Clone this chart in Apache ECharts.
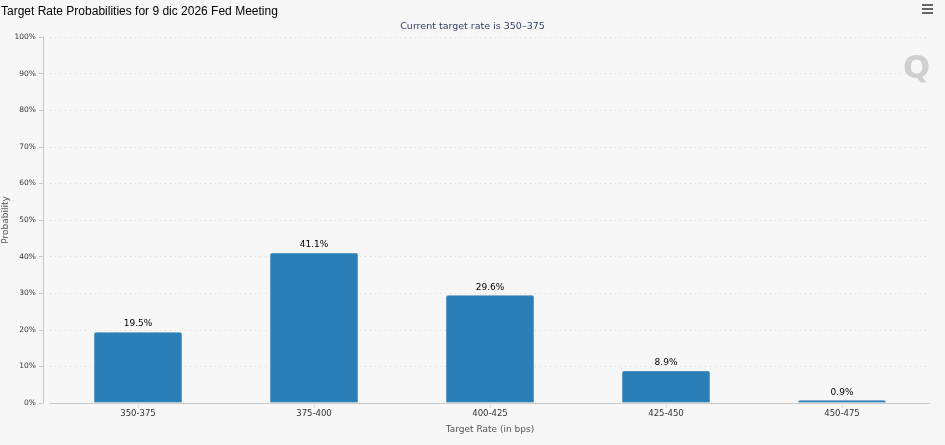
<!DOCTYPE html>
<html>
<head>
<meta charset="utf-8">
<script src="https://cdn.jsdelivr.net/npm/echarts@6/dist/echarts.min.js"></script>
<style>
  html, body { margin: 0; padding: 0; background: #f7f7f7; }
  #chart { width: 945px; height: 445px; }
</style>
</head>
<body>
<div id="chart"></div>
<script>
var categories = ["350-375", "375-400", "400-425", "425-450", "450-475"];
var probabilities = [19.5, 41.1, 29.6, 8.9, 0.9];
var yTicks = [0, 10, 20, 30, 40, 50, 60, 70, 80, 90, 100];

var dom = echarts.init(document.getElementById("chart"));
var option = {
  backgroundColor: "#f7f7f7",
  animation: false,
  title: [
    {
      text: "Target Rate Probabilities for 9 dic 2026 Fed Meeting",
      left: -4,
      top: 1,
      textStyle: {
        fontFamily: "Liberation Sans",
        fontSize: 12,
        fontWeight: "normal",
        color: "#000"
      }
    },
    {
      text: "Current target rate is 350\u2013375",
      left: "center",
      top: 17,
      textStyle: {
        fontFamily: "DejaVu Sans",
        fontSize: 9.5,
        fontWeight: "normal",
        color: "#333d66"
      }
    }
  ],
  grid: {
    left: 50,
    right: 15,
    top: 37,
    bottom: 42,
    outerBoundsMode: "none"
  },
  xAxis: {
    type: "category",
    data: categories,
    name: "Target Rate (in bps)",
    nameLocation: "middle",
    nameGap: 22,
    nameTextStyle: {
      fontFamily: "DejaVu Sans",
      fontSize: 9,
      color: "#555"
    },
    axisLine: {
      lineStyle: { color: "#c8c8c8", width: 1 }
    },
    axisTick: {
      show: true,
      alignWithLabel: true,
      length: 5,
      lineStyle: { color: "#e0e0e0" }
    },
    axisLabel: {
      fontFamily: "DejaVu Sans",
      fontSize: 8.5,
      color: "#333",
      margin: 6
    }
  },
  yAxis: {
    type: "value",
    min: 0,
    max: 100,
    interval: 10,
    offset: 7,
    name: "Probability",
    nameLocation: "middle",
    nameGap: 33,
    nameMoveOverlap: false,
    nameTextStyle: {
      fontFamily: "DejaVu Sans",
      fontSize: 9,
      color: "#555"
    },
    axisLine: {
      show: true,
      lineStyle: { color: "#c8c8c8", width: 1 }
    },
    axisTick: {
      show: true,
      length: 4,
      lineStyle: { color: "#c8c8c8" }
    },
    axisLabel: {
      fontFamily: "DejaVu Sans",
      fontSize: 7.5,
      color: "#333",
      margin: 7,
      formatter: function (v) {
        return yTicks.indexOf(v) >= 0 ? v + "%" : "";
      }
    },
    splitLine: {
      show: true,
      lineStyle: { color: "#d8d8d8", type: [1, 4], width: 1 }
    }
  },
  series: [
    {
      type: "bar",
      data: probabilities,
      barWidth: "50.5%",
      itemStyle: {
        color: "#2a7fb9",
        borderColor: "rgba(255,255,255,0.35)",
        borderWidth: 1,
        borderRadius: [2, 2, 0, 0]
      },
      label: {
        show: true,
        position: "top",
        distance: 3,
        fontFamily: "DejaVu Sans",
        fontSize: 9,
        color: "#000",
        formatter: function (p) {
          return p.value + "%";
        }
      }
    }
  ],
  graphic: [
    {
      type: "text",
      left: 903,
      top: 54,
      style: {
        text: "Q",
        fontFamily: "DejaVu Sans",
        fontWeight: "bold",
        fontSize: 32,
        fill: "#cfcfcf"
      }
    },
    {
      type: "group",
      left: 922,
      top: 4,
      children: [
        { type: "rect", shape: { x: 0, y: 0, width: 11, height: 2 }, style: { fill: "#666" } },
        { type: "rect", shape: { x: 0, y: 4, width: 11, height: 2 }, style: { fill: "#666" } },
        { type: "rect", shape: { x: 0, y: 8, width: 11, height: 2 }, style: { fill: "#666" } }
      ]
    }
  ]
};
dom.setOption(option);
window.addEventListener("resize", function () {
  dom.resize();
});
</script>
</body>
</html>
